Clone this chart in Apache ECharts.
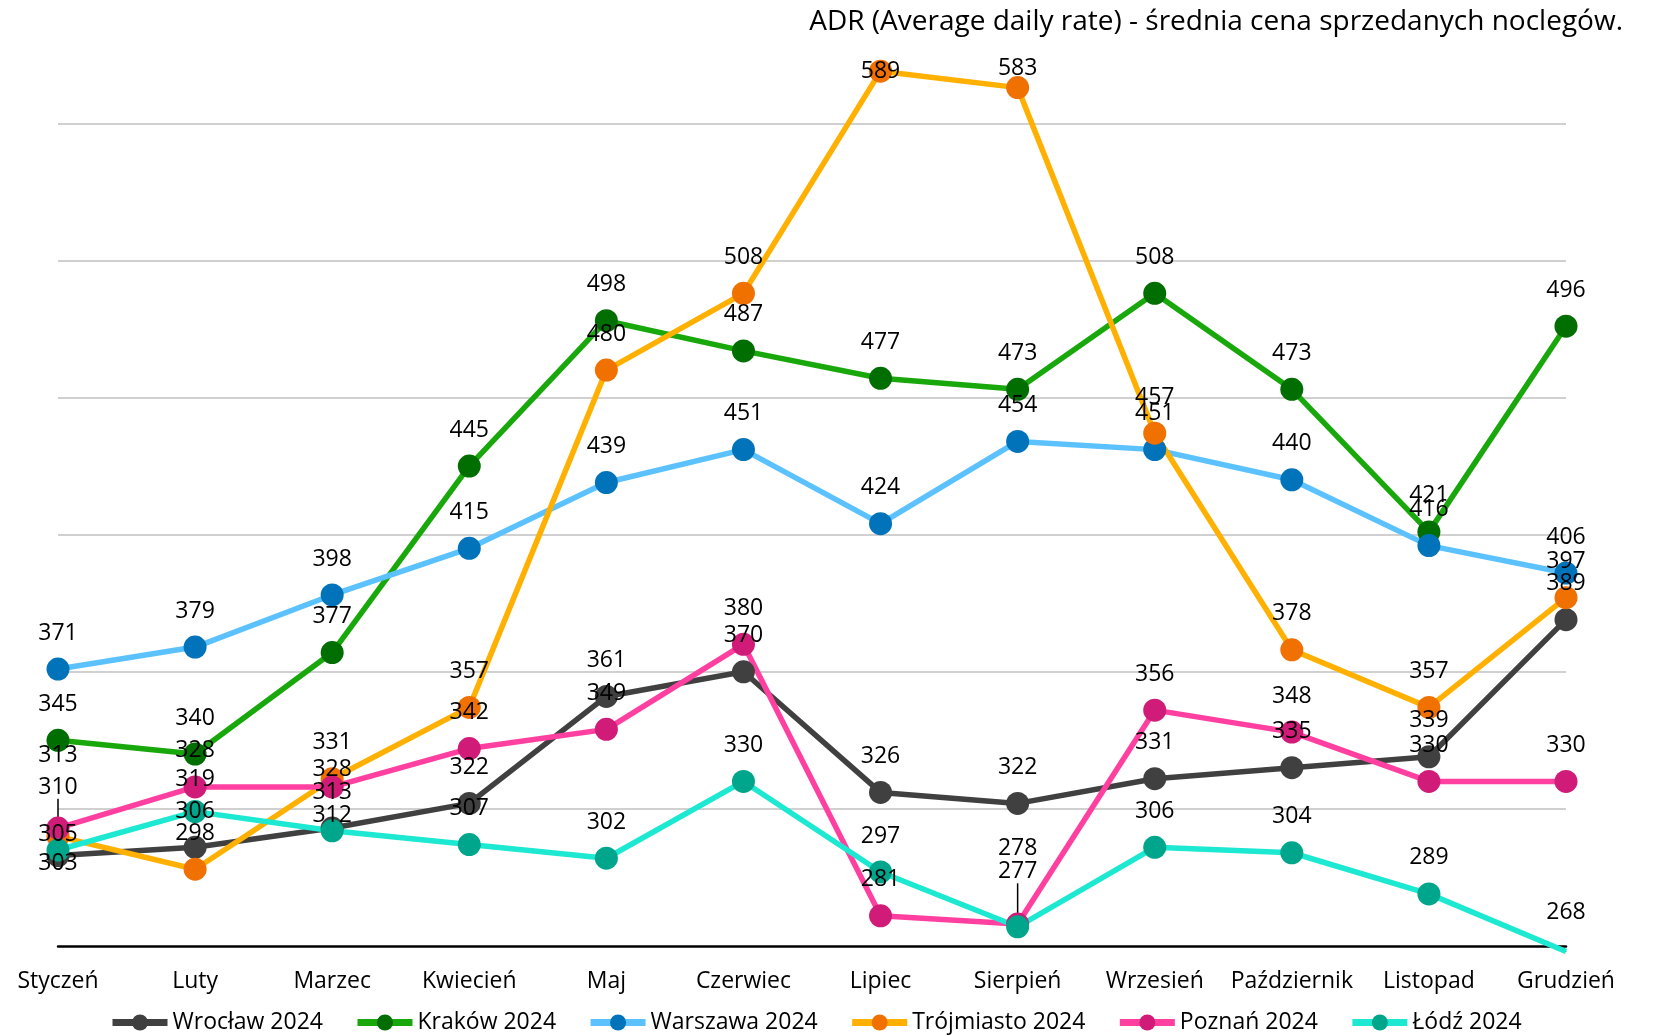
<!DOCTYPE html>
<html>
<head>
<meta charset="utf-8">
<title>ADR 2024</title>
<script src="https://cdn.jsdelivr.net/npm/echarts@6/dist/echarts.min.js"></script>
<style>
  html, body { margin: 0; padding: 0; background: #fff; }
  #chart { width: 1653px; height: 1035px; }
</style>
</head>
<body>
<div id="chart"></div>
<script>
const months = ['Styczeń', 'Luty', 'Marzec', 'Kwiecień', 'Maj', 'Czerwiec',
  'Lipiec', 'Sierpień', 'Wrzesień', 'Październik', 'Listopad', 'Grudzień']

const wroclaw = [303, 306, 313, 322, 361, 370, 326, 322, 331, 335, 339, 389]
const krakow = [345, 340, 377, 445, 498, 487, 477, 473, 508, 473, 421, 496]
const warszawa = [371, 379, 398, 415, 439, 451, 424, 454, 451, 440, 416, 406]
const trojmiasto = [310, 298, 331, 357, 480, 508, 589, 583, 457, 378, 357, 397]
const poznan = [313, 328, 328, 342, 349, 380, 281, 278, 356, 348, 330, 330]
const lodz = [305, 319, 312, 307, 302, 330, 297, 277, 306, 304, 289, 268]

// linie siatki (oś startuje od 270, więc rysujemy je ręcznie)
const gridValues = [320, 370, 420, 470, 520, 570]

const font = '"Open Sans", "Noto Sans", sans-serif'

// ręczne przesunięcia etykiet w pionie (px), jak w oryginale
const labelShift = {
  'Wrocław 2024': { 0: 44 },
  'Trójmiasto 2024': { 0: -13, 6: 36, 7: 17 },
  'Poznań 2024': { 0: -37, 2: 19, 7: -40 },
  'Łódź 2024': { 0: 20, 1: 4, 2: 21, 7: -19, 11: -14 }
}
// etykiety z linią odniesienia
const leaders = { 'Trójmiasto 2024': [0], 'Łódź 2024': [7] }
// punkt poniżej osi - bez kółka
const hiddenDots = { 'Łódź 2024': [11] }

function makeSeries (name, values, lineColor, dotColor) {
  const shift = labelShift[name] || {}
  const lead = leaders[name] || []
  const hidden = hiddenDots[name] || []
  return {
    name: name,
    type: 'line',
    data: values.map((v, i) => {
      const item = { value: v }
      if (lead.includes(i)) item.labelLine = { show: true }
      if (hidden.includes(i)) item.symbolSize = 1
      return item
    }),
    clip: false,
    symbol: 'circle',
    symbolSize: 23,
    lineStyle: { color: lineColor, width: 5.5 },
    itemStyle: { color: dotColor },
    label: {
      show: true,
      position: 'top',
      distance: 13,
      color: '#000',
      fontSize: 23,
      fontFamily: font
    },
    labelLine: { show: false, lineStyle: { color: '#000', width: 1.5 } },
    labelLayout: p => (shift[p.dataIndex] ? { dy: shift[p.dataIndex] } : {}),
    emphasis: { disabled: true }
  }
}

const series = [
  makeSeries('Wrocław 2024', wroclaw, '#404040', '#404040'),
  makeSeries('Kraków 2024', krakow, '#19a80b', '#006e00'),
  makeSeries('Warszawa 2024', warszawa, '#5bc2ff', '#0073bb'),
  makeSeries('Trójmiasto 2024', trojmiasto, '#ffb000', '#f07000'),
  makeSeries('Poznań 2024', poznan, '#ff40a0', '#d01c78'),
  makeSeries('Łódź 2024', lodz, '#1de8d2', '#00a68c')
]

series[0].markLine = {
  silent: true,
  symbol: 'none',
  z: 1,
  label: { show: false },
  lineStyle: { color: '#c0c0c0', width: 1.5, type: 'solid' },
  data: gridValues.map(v => ({ yAxis: v }))
}

const myChart = echarts.init(document.getElementById('chart'))
const option = {
  animation: false,
  backgroundColor: '#fff',
  textStyle: { fontFamily: font },
  title: {
    text: 'ADR (Average daily rate) - średnia cena sprzedanych noclegów.',
    right: 25,
    top: 3,
    textStyle: { fontSize: 28, fontWeight: 'normal', color: '#000', fontFamily: font }
  },
  grid: { left: 58, right: 87, top: 41, bottom: 89 },
  legend: {
    top: 1006,
    left: 104,
    itemWidth: 55,
    itemHeight: 20,
    itemGap: 31,
    lineStyle: { width: 7 },
    textStyle: { fontSize: 23, color: '#000', fontFamily: font },
    data: series.map(s => s.name)
  },
  xAxis: {
    type: 'category',
    data: months,
    boundaryGap: false,
    axisLine: { onZero: false, lineStyle: { color: '#000', width: 2.5 } },
    axisTick: { show: false },
    axisLabel: { margin: 24, fontSize: 23, color: '#000', fontFamily: font, interval: 0 }
  },
  yAxis: {
    type: 'value',
    min: 270,
    max: 600,
    show: false,
    splitLine: { show: false }
  },
  series: series
}
myChart.setOption(option)
</script>
</body>
</html>
